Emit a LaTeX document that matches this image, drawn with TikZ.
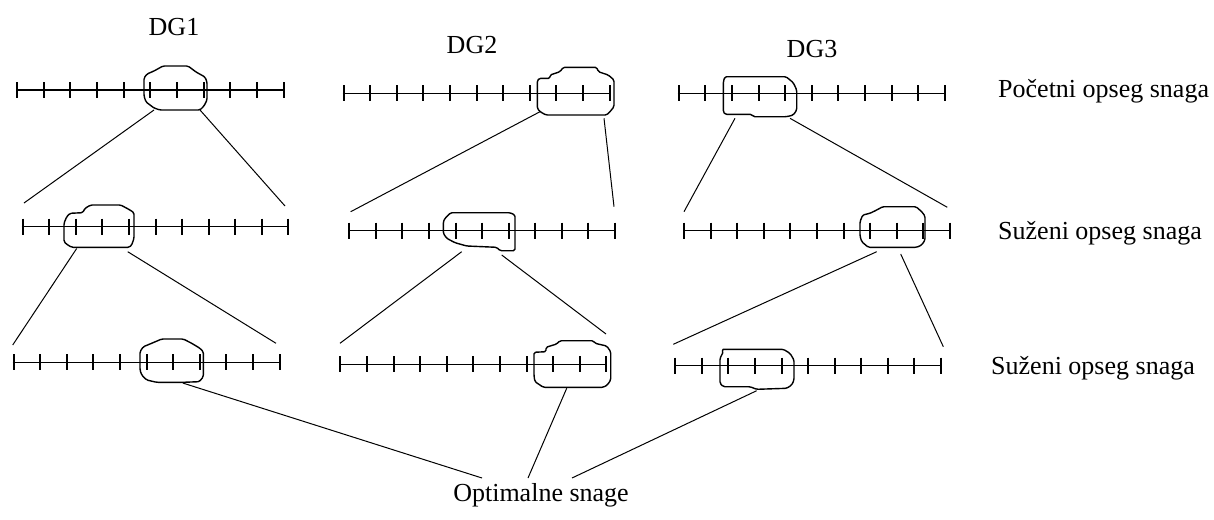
\documentclass[tikz,border=0pt]{standalone}
\usepackage{fontspec}
\setmainfont{Liberation Serif}
\newcommand\myscale[3]{%
  \draw[axis] (#1,#3) -- (#2,#3);
  \foreach \i in {0,...,10}{
    \pgfmathsetmacro\tx{round(#1+\i*(#2-#1)/10)+0.5}
    \draw[tickmark] (\tx,{#3-8}) -- (\tx,{#3+8});
  }%
}
\begin{document}
\begin{tikzpicture}[x=1pt,y=-1pt,line join=round,
  axis/.style={line width=1.5pt},
  tickmark/.style={line width=2pt},
  blob/.style={line width=1.4pt,rounded corners=1.5pt},
  conn/.style={line width=1pt},
  lbl/.style={inner sep=0pt,font=\fontsize{26}{30}\selectfont}]
\useasboundingbox (0,0) rectangle (1214,519);
\fill[white] (0,0) rectangle (1214,519);

% scales
\myscale{16}{282.7}{90}
\myscale{342.7}{608.7}{93.3}
\myscale{677.7}{944}{93.3}
\myscale{21.7}{287.3}{226.7}
\myscale{348.3}{614}{230.7}
\myscale{683.3}{948.7}{230.7}
\myscale{12.7}{278.7}{362.3}
\myscale{339.3}{605.3}{364.3}
\myscale{674.3}{940}{365.7}

% blobs row 1
\draw[blob] (163,66) -- (188,66) -- (196,72) -- (205,77) -- (207,82) -- (207,100) -- (204,106) -- (200,110) -- (160,110) -- (154,108) -- (146,102) -- (144,96) -- (144,78) -- (147,74) -- (154,71) -- cycle;
\draw[blob] (563.3,67.3) -- (596.7,67.3) -- (598.3,71.7) -- (608.3,75) -- (614,80) -- (614,106.7) -- (610,111.7) -- (606.7,115) -- (546,115) -- (540,111.7) -- (537.3,108.3) -- (537.3,80.7) -- (539.3,78.3) -- (550,78.3) -- (550,75) -- (560,71.7) -- cycle;
\draw[blob] (725,76.7) -- (786,76.7) -- (793.3,82.7) -- (796.7,90) -- (796.7,110) -- (793.3,115) -- (786.7,116.7) -- (753.3,116.7) -- (751.7,114.3) -- (725,114.3) -- (723.3,111.7) -- (723.3,81.7) -- cycle;
% blobs row 2
\draw[blob] (90.7,205) -- (120.7,205) -- (130,210) -- (134,212.7) -- (134,238.3) -- (131.7,245) -- (129.3,247.3) -- (71.7,247.3) -- (66.7,244.3) -- (64,241.7) -- (64,223.3) -- (66.7,216.7) -- (70,213.3) -- (82.7,212.7) -- (85,208.3) -- cycle;
\draw[blob] (450.7,212.7) -- (510,212.7) -- (515,215) -- (515,250.7) -- (500,250.7) -- (496.7,247.3) -- (466.7,246) -- (455,242.7) -- (446.7,238.3) -- (443.3,233.3) -- (443.3,221.7) -- (445,218.3) -- cycle;
\draw[blob] (882.7,206.7) -- (916,206.7) -- (921.7,211.7) -- (925,216) -- (925,240) -- (921.7,245) -- (916.7,247.3) -- (868.3,247.3) -- (861.7,241.7) -- (860,236) -- (860,221.7) -- (862.7,215) -- (870,213.3) -- (876.7,210) -- cycle;
% blobs row 3
\draw[blob] (161.7,339) -- (183.3,339) -- (191.7,343.3) -- (200,348.3) -- (203.3,351.7) -- (203.3,376.7) -- (199.3,381.7) -- (182.7,382.3) -- (156.7,382.3) -- (146.7,380) -- (141.7,375) -- (140,370) -- (140,351.7) -- (143.3,346.7) -- (150,344) -- cycle;
\draw[blob] (560,340.7) -- (593.3,340.7) -- (595,343.3) -- (606.7,346) -- (610.7,351.7) -- (610.7,380) -- (607.3,385) -- (603.3,387.3) -- (543.3,387.3) -- (535,381.7) -- (534,376) -- (534,352.3) -- (546,351.7) -- (546,347.3) -- (556.7,344) -- cycle;
\draw[blob] (721.7,349.3) -- (783.3,349.3) -- (790,353.3) -- (794,360) -- (794,380) -- (791.7,385) -- (786.7,388.3) -- (756.7,389.3) -- (750,386.7) -- (723.3,386.7) -- (720,383.3) -- (720,358.3) -- (723.3,351.7) -- cycle;

% connector end points
\coordinate (a1s) at (154,110);   \coordinate (a1e) at (24,203);
\coordinate (b1s) at (200,110);   \coordinate (b1e) at (285,206);
\coordinate (a2s) at (540,111.7); \coordinate (a2e) at (350.7,211.7);
\coordinate (b2s) at (604,118.3); \coordinate (b2e) at (614,206.7);
\coordinate (a3s) at (735,118.3); \coordinate (a3e) at (684,211.7);
\coordinate (b3s) at (790,118.3); \coordinate (b3e) at (947.3,207.3);

\coordinate (c1s) at (76.7,248.5);  \coordinate (c1e) at (12.7,345);
\coordinate (d1s) at (127.7,251.7); \coordinate (d1e) at (276,343.3);
\coordinate (c2s) at (461.7,251.7); \coordinate (c2e) at (340,343.3);
\coordinate (d2s) at (501.7,255);   \coordinate (d2e) at (606,334);
\coordinate (c3s) at (876.7,251.7); \coordinate (c3e) at (673.3,344.3);
\coordinate (d3s) at (900.7,254);   \coordinate (d3e) at (943.3,346.7);

\coordinate (e1s) at (182.7,383);   \coordinate (e1e) at (482,478);
\coordinate (e2s) at (566.7,388.3); \coordinate (e2e) at (528,478);
\coordinate (e3s) at (756.7,390.7); \coordinate (e3e) at (572,478);

\foreach \p in {a1,b1,a2,b2,a3,b3,c1,d1,c2,d2,c3,d3,e1,e2,e3}
  \draw[conn] (\p s) -- (\p e);

% labels
\node[lbl,anchor=base] (dg1) at (174,36) {DG1};
\node[lbl,anchor=base] (dg2) at (472,54) {DG2};
\node[lbl,anchor=base] (dg3) at (812,58) {DG3};
\node[lbl,anchor=base west] (l1) at (998,97) {Početni opseg snaga};
\node[lbl,anchor=base west] (l2) at (998,239) {Suženi opseg snaga};
\node[lbl,anchor=base west] (l3) at (991,374) {Suženi opseg snaga};
\node[lbl,anchor=base] (opt) at (541,501) {Optimalne snage};
\end{tikzpicture}
\end{document}
